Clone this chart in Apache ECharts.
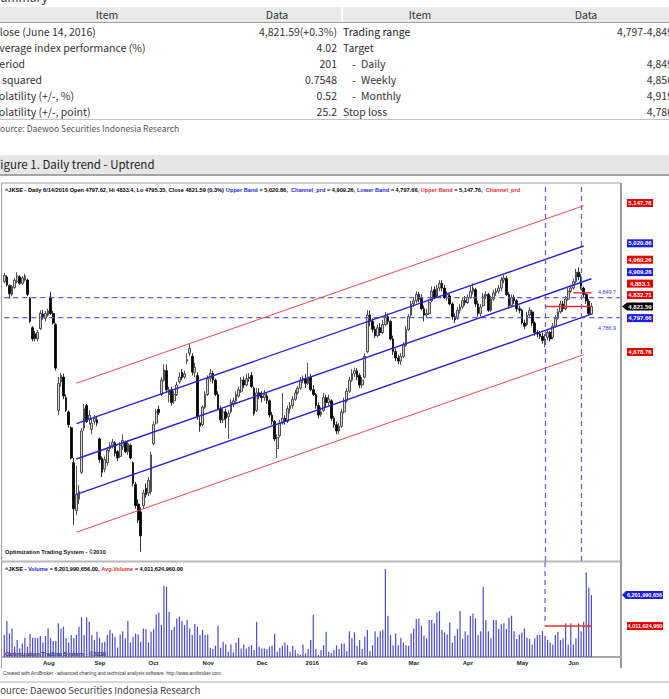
<!DOCTYPE html>
<html>
<head>
<meta charset="utf-8">
<title>JKSE daily trend</title>
<script src="https://cdn.jsdelivr.net/npm/echarts@6.0.0/dist/echarts.min.js"></script>
<style>
  html, body { margin: 0; padding: 0; background: #fff; }
  #page { position: relative; width: 669px; height: 699px; overflow: hidden;
          font-family: "Noto Sans CJK KR", "Noto Sans", sans-serif; color: #333; }
  .t { position: absolute; white-space: nowrap; }
  .row { position: absolute; height: 16px; line-height: 16px; font-size: 10.5px; white-space: nowrap; }
  .lv { right: 332px; text-align: right; }
  .rv { right: -4px; text-align: right; }
  #chart { position: absolute; left: 0; top: 178px; width: 669px; height: 504px; }
</style>
</head>
<body>
<div id="page">
  <div class="t" style="left:-7px;top:-10px;font-size:12px;line-height:14px;">Summary</div>

  <!-- summary table -->
  <div class="t" style="left:0;top:7px;width:669px;height:15px;background:#e9e9e9;border-bottom:1.5px solid #9c9c9c;"></div>
  <div class="t" style="left:341px;top:7px;width:2px;height:15px;background:#fff;"></div>
  <div class="row" style="left:57px;top:7px;width:100px;text-align:center;line-height:15px;">Item</div>
  <div class="row" style="left:227px;top:7px;width:100px;text-align:center;line-height:15px;">Data</div>
  <div class="row" style="left:370px;top:7px;width:100px;text-align:center;line-height:15px;">Item</div>
  <div class="row" style="left:536px;top:7px;width:100px;text-align:center;line-height:15px;">Data</div>

  <div class="row" style="left:-7px;top:24px;">Close (June 14, 2016)</div>
  <div class="row lv" style="top:24px;">4,821.59(+0.3%)</div>
  <div class="row" style="left:343px;top:24px;color:#222;">Trading range</div>
  <div class="row rv" style="top:24px;">4,797-4,849</div>

  <div class="row" style="left:-7px;top:40px;">Average index performance (%)</div>
  <div class="row lv" style="top:40px;">4.02</div>
  <div class="row" style="left:343px;top:40px;">Target</div>

  <div class="row" style="left:-7px;top:56px;">Period</div>
  <div class="row lv" style="top:56px;">201</div>
  <div class="row" style="left:352px;top:56px;">-</div>
  <div class="row" style="left:361px;top:56px;">Daily</div>
  <div class="row rv" style="top:56px;">4,849</div>

  <div class="row" style="left:-7px;top:72px;">R squared</div>
  <div class="row lv" style="top:72px;">0.7548</div>
  <div class="row" style="left:352px;top:72px;">-</div>
  <div class="row" style="left:361px;top:72px;">Weekly</div>
  <div class="row rv" style="top:72px;">4,856</div>

  <div class="row" style="left:-7px;top:88px;">Volatility (+/-, %)</div>
  <div class="row lv" style="top:88px;">0.52</div>
  <div class="row" style="left:352px;top:88px;">-</div>
  <div class="row" style="left:361px;top:88px;">Monthly</div>
  <div class="row rv" style="top:88px;">4,919</div>

  <div class="row" style="left:-7px;top:104px;">Volatility (+/-, point)</div>
  <div class="row lv" style="top:104px;">25.2</div>
  <div class="row" style="left:343px;top:104px;">Stop loss</div>
  <div class="row rv" style="top:104px;">4,786</div>

  <div class="t" style="left:0;top:119px;width:669px;height:0;border-top:1.5px solid #c4c4c4;"></div>
  <div class="t" style="left:-5px;top:121px;font-size:8.5px;line-height:14px;color:#555;">Source: Daewoo Securities Indonesia Research</div>

  <!-- figure title bar -->
  <div class="t" style="left:0;top:155px;width:669px;height:19px;background:#e6e6e6;border-bottom:2px solid #a5a5a5;"></div>
  <div class="t" style="left:-6px;top:155px;font-size:11.5px;line-height:19px;color:#222;">Figure 1. Daily trend - Uptrend</div>

  <div id="chart"></div>

  <div class="t" style="left:0;top:681px;width:669px;height:1.5px;background:#d8d8d8;"></div>
  <div class="t" style="left:-5.5px;top:683px;font-size:9.5px;line-height:14px;color:#444;">Source: Daewoo Securities Indonesia Research</div>
</div>

<script>
// ---------------- chart data ----------------
// daily candles, one array per month: [open, close, low, high]
const jul15 = [
  [4900,4920,4895,4928],[4915,4890,4885,4920],[4888,4862,4846,4892],[4860,4885,4855,4890],[4882,4905,4878,4912],
  [4900,4918,4895,4930],[4915,4895,4890,4920],[4895,4912,4890,4918],[4905,4918,4900,4925],[4905,4860,4855,4910],
  [4848,4775,4770,4852],[4755,4720,4712,4760],[4735,4722,4712,4745],[4720,4740,4712,4748],[4752,4800,4748,4810]
];
const aug15 = [
  [4798,4790,4780,4812],[4785,4800,4775,4808],[4795,4808,4790,4815],[4852,4800,4795,4868],[4800,4770,4765,4808],
  [4765,4628,4620,4770],[4495,4580,4480,4600],[4585,4605,4570,4612],[4600,4540,4530,4610],[4535,4495,4490,4545],
  [4490,4450,4440,4495],[4440,4345,4340,4445],[4330,4185,4135,4345],[4180,4230,4165,4320],[4215,4240,4200,4260],
  [4300,4430,4295,4440],[4440,4500,4430,4515],[4510,4460,4455,4515],[4465,4480,4450,4495],[4435,4455,4420,4470]
];
const sep15 = [
  [4460,4470,4450,4480],[4465,4455,4445,4475],[4405,4340,4330,4410],[4345,4300,4285,4350],[4310,4340,4300,4350],
  [4330,4370,4320,4380],[4375,4385,4365,4395],[4385,4395,4375,4405],[4392,4360,4350,4398],[4365,4345,4335,4370],
  [4350,4385,4345,4395],[4380,4400,4370,4420],[4395,4365,4360,4400],[4365,4390,4355,4398],[4385,4345,4340,4390],
  [4330,4265,4255,4335],[4262,4195,4185,4270],[4200,4150,4140,4215],[4175,4100,4050,4190],[4195,4235,4185,4245],
  [4250,4230,4220,4265]
];
const oct15 = [
  [4235,4275,4225,4285],[4240,4355,4230,4365],[4390,4450,4385,4460],[4455,4490,4450,4500],[4498,4488,4480,4510],
  [4545,4590,4540,4600],[4590,4622,4585,4640],[4620,4560,4550,4640],[4545,4560,4520,4570],[4560,4520,4510,4570],
  [4525,4545,4515,4555],[4545,4575,4540,4585],[4585,4600,4580,4615],[4615,4598,4590,4625],[4600,4610,4595,4620],
  [4650,4655,4640,4675],[4675,4690,4665,4705],[4665,4615,4605,4675],[4615,4630,4600,4645],[4605,4475,4465,4615],
  [4455,4445,4428,4475]
];
const nov15 = [
  [4450,4505,4445,4510],[4505,4545,4500,4555],[4545,4595,4540,4605],[4595,4612,4585,4625],[4612,4590,4580,4620],
  [4590,4545,4540,4595],[4545,4500,4495,4555],[4500,4465,4455,4510],[4465,4490,4455,4500],[4490,4470,4440,4500],
  [4475,4485,4405,4495],[4490,4520,4485,4530],[4515,4525,4505,4535],[4525,4545,4515,4555],[4540,4560,4535,4570],
  [4555,4590,4550,4600],[4590,4575,4565,4602],[4575,4595,4570,4610],[4595,4600,4585,4612],[4605,4570,4565,4615],
  [4565,4485,4478,4570]
];
const dec15 = [
  [4495,4550,4490,4565],[4550,4540,4530,4565],[4540,4535,4520,4555],[4535,4545,4525,4560],[4540,4525,4515,4550],
  [4525,4480,4472,4530],[4480,4460,4450,4490],[4460,4405,4398,4465],[4375,4410,4345,4420],[4415,4455,4410,4465],
  [4455,4470,4450,4550],[4470,4460,4450,4480],[4460,4500,4455,4510],[4500,4510,4485,4520],[4510,4530,4500,4540],
  [4530,4550,4525,4560],[4550,4565,4545,4572],[4565,4590,4560,4600],[4590,4595,4580,4605]
];
const jan16 = [
  [4595,4580,4565,4610],[4580,4600,4575,4645],[4600,4560,4555,4610],[4560,4545,4540,4575],[4545,4510,4500,4550],
  [4510,4480,4470,4520],[4482,4490,4475,4505],[4495,4535,4490,4550],[4535,4520,4505,4545],[4520,4530,4510,4545],
  [4525,4470,4462,4530],[4470,4450,4440,4478],[4450,4430,4420,4460],[4430,4445,4420,4455],[4445,4490,4440,4500],
  [4490,4525,4485,4535],[4525,4555,4520,4565],[4555,4590,4550,4600],[4590,4610,4585,4625],[4610,4620,4600,4630]
];
const feb16 = [
  [4620,4600,4590,4628],[4605,4575,4565,4612],[4575,4590,4565,4600],[4600,4665,4595,4675],[4680,4795,4675,4810],
  [4795,4775,4760,4810],[4775,4750,4740,4785],[4750,4730,4722,4760],[4730,4755,4725,4765],[4755,4740,4730,4770],
  [4740,4765,4735,4780],[4765,4790,4760,4805],[4790,4775,4765,4800],[4775,4720,4715,4780],[4720,4680,4670,4730],
  [4680,4660,4650,4690],[4660,4650,4640,4670],[4650,4665,4638,4675],[4665,4700,4660,4710],[4700,4750,4695,4760]
];
const mar16 = [
  [4750,4790,4745,4798],[4795,4830,4790,4840],[4830,4840,4820,4850],[4840,4860,4832,4870],[4860,4845,4835,4868],
  [4850,4815,4810,4860],[4815,4795,4775,4825],[4795,4800,4785,4815],[4800,4835,4795,4845],[4840,4870,4835,4885],
  [4875,4850,4845,4885],[4855,4880,4850,4890],[4880,4895,4870,4905],[4895,4880,4870,4905],[4880,4850,4845,4890],
  [4850,4860,4840,4870],[4855,4830,4825,4862],[4830,4790,4780,4835],[4790,4780,4770,4800],[4785,4810,4780,4820],
  [4810,4820,4800,4830]
];
const apr16 = [
  [4820,4840,4815,4850],[4840,4835,4825,4855],[4835,4850,4830,4860],[4850,4870,4845,4885],[4870,4880,4860,4895],
  [4875,4830,4820,4880],[4830,4800,4790,4840],[4800,4820,4790,4830],[4825,4855,4820,4865],[4855,4860,4845,4870],
  [4860,4810,4805,4865],[4810,4845,4805,4855],[4845,4865,4840,4875],[4865,4870,4855,4880],[4870,4880,4862,4890],
  [4880,4905,4870,4915],[4905,4912,4895,4922],[4910,4860,4855,4918],[4860,4825,4815,4868],[4825,4850,4820,4860],
  [4850,4840,4830,4858]
];
const may16 = [
  [4840,4815,4805,4845],[4815,4810,4800,4825],[4810,4770,4765,4815],[4770,4760,4750,4780],[4765,4795,4760,4805],
  [4795,4810,4785,4820],[4805,4770,4760,4812],[4770,4740,4730,4775],[4740,4735,4725,4748],[4735,4728,4720,4745],
  [4728,4715,4705,4740],[4715,4720,4695,4735],[4725,4740,4715,4748],[4740,4720,4712,4745],[4725,4760,4720,4770],
  [4760,4785,4755,4795],[4785,4805,4780,4815],[4805,4830,4800,4840],[4830,4815,4805,4840],[4815,4845,4810,4855]
];
const jun16 = [
  [4845,4870,4840,4880],[4870,4880,4865,4890],[4880,4900,4875,4910],[4900,4930,4895,4940],[4930,4915,4905,4945],
  [4915,4880,4875,4925],[4880,4860,4850,4885],[4860,4840,4830,4865],[4838,4800,4795,4845],[4797.62,4821.59,4795.35,4833.4]
];

// daily volume, billions of shares
const volJul = [3.37,4.36,3.49,3.84,2.55,3.02,2.43,2.78,3.18,2.55,3.44,3.18,3.18,3.18,3.30];
const volAug = [2.85,3.30,3.84,3.14,2.95,2.95,4.20,3.84,3.96,3.14,2.85,3.37,3.14,3.37,3.96,4.62,3.37,4.64,4.31,3.37];
const volSep = [3.02,3.61,3.18,2.85,2.90,3.37,3.73,3.49,3.25,2.48,3.42,3.65,3.14,4.36,2.85,3.25,3.49,3.42,2.90,3.84,3.80];
const volOct = [2.85,3.61,3.80,4.83,4.97,4.08,6.86,6.79,5.02,3.73,3.96,4.55,4.67,4.36,4.08,4.43,3.84,3.37,4.15,3.96,3.37];
const volNov = [3.73,3.37,3.42,2.48,2.38,2.62,4.03,2.48,2.90,2.71,2.19,2.71,2.15,2.85,3.18,2.43,2.71,2.43,2.55,2.66,2.31];
const volDec = [4.31,2.55,2.43,2.43,2.38,2.55,2.62,3.47,2.19,2.48,2.62,2.85,2.66,2.19,2.62,2.31,2.05,1.96,2.71];
const volJan = [2.08,2.38,3.02,4.79,2.38,1.96,2.31,2.66,3.61,2.19,2.08,2.31,2.66,2.38,2.78,2.78,2.24,3.65,3.14,3.56];
const volFeb = [2.62,3.02,2.38,3.25,3.73,2.24,2.66,3.65,3.25,3.65,3.73,8.04,4.74,3.37,2.66,3.49,2.66,3.18,2.85,2.66];
const volMar = [2.62,3.49,3.84,4.50,4.55,4.03,3.32,3.14,4.43,4.43,4.20,4.97,5.07,3.73,3.56,3.42,4.27,2.85,3.32,3.80,5.07];
const volApr = [3.09,3.65,3.37,4.74,4.90,4.55,3.37,3.65,6.79,4.43,3.65,3.14,4.43,4.43,3.80,4.13,4.20,3.80,4.60,4.74,3.65];
const volMay = [3.09,3.42,3.56,3.84,3.18,3.09,2.71,3.14,3.37,3.37,3.65,3.32,3.02,2.85,2.71,3.37,3.61,3.02,3.14,4.20];
const volJun = [2.71,4.20,2.71,3.14,4.20,3.65,4.31,7.80,6.74,6.202];

// first bar and exchange holidays, for the date axis
const firstDay = '2015-07-07';
const holidays = ['2015-07-16','2015-07-17','2015-07-20','2015-07-21','2015-08-17','2015-09-24','2015-10-14',
  '2015-12-09','2015-12-24','2015-12-25','2015-12-31','2016-01-01','2016-02-08','2016-03-09','2016-03-25',
  '2016-05-05','2016-05-06'];
const blankDays = 11;   // empty bars AmiBroker leaves on the right

// regression channel: outer red, blue upper, channel_prd, blue lower, outer red
const channelStartBar = 28;
const channelEndBar = [225, 225, 228, 228, 225];
const channelStartVal = [4580.4, 4453.5, 4341.9, 4230.3, 4111.4];
const channelEndVal = [5139.3, 5012.4, 4909.26, 4797.66, 4670.3];

const levelValues = [4849.7, 4786.9];
const levelText = ['4,849.7', '4,786.9'];
const markerBars = [210, 224];
const redSegStart = [210, 221];
const redSegValue = [4822, 4865];
const lastBar = 228;
const avgVolume = 4.0116;
const lastVolume = 6.202;

const tagValues = [5147.76, 5020.86, 4969.26, 4909.26, 4883.1, 4832.71, 4821.59, 4797.66, 4678.76];
const tagText = ['5,147.76','5,020.86','4,969.26','4,909.26','4,883.1','4,832.71','4,821.59','4,797.66','4,678.76'];
const tagKind = ['r','b','r','b','r','r','k','b','r'];

// ---------------- build ----------------
const RED = '#ee2b2b', BLUE = '#2323e0', DASH = '#5a5af0';
const FAM = '"Liberation Sans", Arial, sans-serif';
const OFF = 178;   // chart div top on the page

const candles = [].concat(jul15, aug15, sep15, oct15, nov15, dec15, jan16, feb16, mar16, apr16, may16, jun16);
const volumes = [].concat(volJul, volAug, volSep, volOct, volNov, volDec, volJan, volFeb, volMar, volApr, volMay, volJun);

function tradingDays(n) {
  const out = [];
  const d = new Date(firstDay + 'T00:00:00Z');
  while (out.length < n) {
    const s = d.toISOString().slice(0, 10);
    const wd = d.getUTCDay();
    if (wd !== 0 && wd !== 6 && holidays.indexOf(s) < 0) out.push(s);
    d.setUTCDate(d.getUTCDate() + 1);
  }
  return out;
}
const dates = tradingDays(candles.length + blankDays);
const monthStart = dates.map((s, i) => i > 0 && s.slice(0, 7) !== dates[i - 1].slice(0, 7));
const MONTHS = ['Jan','Feb','Mar','Apr','May','Jun','Jul','Aug','Sep','Oct','Nov','Dec'];
function monthLabel(s) {
  const m = +s.slice(5, 7);
  return m === 1 ? s.slice(0, 4) : MONTHS[m - 1];
}

function seg(pts, color, width, xi, dashed) {
  return {
    type: 'line', xAxisIndex: xi, yAxisIndex: xi, data: pts, symbol: 'none', silent: true, z: 3,
    lineStyle: { color: color, width: width, type: dashed ? [5, 4] : 'solid' }
  };
}

const dashStyle = { color: DASH, type: [5, 4], width: 1.2 };
const series = [{
  type: 'candlestick', name: '^JKSE', xAxisIndex: 0, yAxisIndex: 0, data: candles,
  barWidth: 2.2, silent: true,
  itemStyle: { color: '#d4d4d4', color0: '#000', borderColor: '#2a2a2a', borderColor0: '#000', borderWidth: 0.8 },
  markLine: {
    silent: true, symbol: ['none', 'none'], label: { show: false }, lineStyle: dashStyle,
    data: markerBars.map(b => ({ xAxis: dates[b], lineStyle: dashStyle }))
  }
}];
// horizontal dashed levels across the whole pane
levelValues.forEach(v => series.push(seg([[0, v], [dates.length - 1, v]], DASH, 1.2, 0, true)));
channelStartVal.forEach((v, k) => {
  const red = k === 0 || k === 4;
  series.push(seg([[channelStartBar, v], [channelEndBar[k], channelEndVal[k]]], red ? '#f04848' : BLUE, red ? 1 : 1.4, 0));
});
redSegStart.forEach((b, k) => series.push(seg([[b, redSegValue[k]], [lastBar, redSegValue[k]]], RED, 1.4, 0)));
series.push({
  type: 'bar', name: 'Volume', xAxisIndex: 1, yAxisIndex: 1, data: volumes, barWidth: 1.2, silent: true,
  itemStyle: { color: '#4a4ad8' }
});
series.push(seg([[markerBars[0], avgVolume], [lastBar, avgVolume]], RED, 1.4, 1));
series.push(seg([[markerBars[0], 8.537], [markerBars[0], avgVolume]], DASH, 1.2, 1, true));

const chart = echarts.init(document.getElementById('chart'), null, { renderer: 'svg' });
chart.setOption({
  animation: false,
  grid: [
    { left: 3, top: 183 - OFF, width: 618, height: 378 },
    { left: 3, top: 562 - OFF, width: 618, height: 95 }
  ],
  xAxis: [
    { type: 'category', gridIndex: 0, data: dates, boundaryGap: true, show: false },
    {
      type: 'category', gridIndex: 1, data: dates, boundaryGap: true,
      axisLine: { onZero: false, lineStyle: { color: '#a8a8a8', width: 2 } },
      axisTick: { alignWithLabel: true, interval: i => monthStart[i], length: 3, lineStyle: { color: '#555' } },
      axisLabel: {
        interval: i => monthStart[i], formatter: monthLabel, align: 'left', margin: 3,
        fontSize: 6, fontWeight: 'bold', fontFamily: FAM, color: '#222'
      }
    }
  ],
  yAxis: [
    { type: 'value', gridIndex: 0, min: 4020.8, max: 5210.7, show: false },
    { type: 'value', gridIndex: 1, min: 1.823, max: 8.537, show: false }
  ],
  series: series
});

// ---------------- annotations ----------------
const ctx = document.createElement('canvas').getContext('2d');
function cssFont(size, bold) { return (bold ? 'bold ' : '') + size + 'px ' + FAM; }
function fitScale(str, size, bold, width) {
  ctx.font = cssFont(size, bold);
  return width / ctx.measureText(str).width;
}
const g = [];
function line(x1, y1, x2, y2, color, w) {
  g.push({ type: 'line', silent: true, shape: { x1, y1, x2, y2 }, style: { stroke: color, lineWidth: w } });
}
function label(str, x, y, size, bold, fill, width, align) {
  const el = {
    type: 'text', silent: true, x: x, y: y,
    style: { text: str, fontSize: size, fontWeight: bold ? 'bold' : 'normal', fontFamily: FAM,
             fill: fill, verticalAlign: 'middle', align: align || 'left' }
  };
  if (width) el.scaleX = fitScale(str, size, bold, width);
  g.push(el);
}
function richLabel(parts, x, y, size, width) {
  const f = { fontSize: size, fontWeight: 'bold', fontFamily: FAM };
  g.push({
    type: 'text', silent: true, x: x, y: y,
    scaleX: fitScale(parts.map(p => p[1]).join(''), size, true, width),
    style: {
      text: parts.map(p => '{' + p[0] + '|' + p[1] + '}').join(''), verticalAlign: 'middle',
      rich: { k: Object.assign({ fill: '#000' }, f), b: Object.assign({ fill: BLUE }, f), r: Object.assign({ fill: RED }, f) }
    }
  });
}

// frame of the AmiBroker pane
line(1.5, 183 - OFF, 621, 183 - OFF, '#a0a0a0', 1);
line(1.5, 183 - OFF, 1.5, 668 - OFF, '#a0a0a0', 1);
line(621, 183 - OFF, 621, 668 - OFF, '#9a9a9a', 2);
line(1.5, 561.5 - OFF, 621, 561.5 - OFF, '#b8b8b8', 2);

richLabel([
  ['k', '^JKSE - Daily 6/14/2016 Open 4797.62, Hi 4833.4, Lo 4795.35, Close 4821.59 (0.3%) '],
  ['b', 'Upper Band'], ['k', ' = 5,020.86,  '], ['b', 'Channel_prd'], ['k', ' = 4,909.26, '],
  ['b', 'Lower Band'], ['k', ' = 4,797.66, '], ['r', 'Upper Band'], ['k', ' = 5,147.76,  '], ['r', 'Channel_prd']
], 5, 190 - OFF, 6, 515);
richLabel([
  ['k', '^JKSE - '], ['b', 'Volume'], ['k', ' = 6,201,990,656.00, '], ['r', 'Avg.Volume'], ['k', ' = 4,011,624,960.00']
], 5, 569 - OFF, 6, 178);
label('Optimization Trading System - \u00a92010', 5, 552 - OFF, 6, true, '#111', 101);
label('Optimization Trading System - \u00a92010', 5, 654 - OFF, 6, true, '#111', 101);
label('Created with AmiBroker - advanced charting and technical analysis software. http://www.amibroker.com',
  3, 673 - OFF, 5, false, '#333', 219);

// dashed level captions
levelValues.forEach((v, k) => {
  const y = chart.convertToPixel({ yAxisIndex: 0 }, v);
  label(levelText[k], 598, k === 0 ? y - 5.5 : y + 10, 6, false, '#3434e0', 18);
});

// price tags on the right, stacked around the close tag
const anchor = tagKind.indexOf('k');
const ys = tagValues.map(v => chart.convertToPixel({ yAxisIndex: 0 }, v));
for (let k = anchor - 1; k >= 0; k--) ys[k] = Math.min(ys[k], ys[k + 1] - 11.5);
for (let k = anchor + 1; k < ys.length; k++) ys[k] = Math.max(ys[k], ys[k - 1] + 11.5);
const kindColor = { r: '#e60000', b: '#1c1ce0', k: '#000' };
function tag(str, y, color, x0, x1, arrow, size) {
  const pts = arrow
    ? [[622, y], [x0, y - 4], [x1, y - 4], [x1, y + 4], [x0, y + 4]]
    : [[x0, y - 4], [x1, y - 4], [x1, y + 4], [x0, y + 4]];
  g.push({ type: 'polygon', silent: true, shape: { points: pts }, style: { fill: color } });
  g.push({
    type: 'text', silent: true, x: (x0 + x1) / 2, y: y,
    style: { text: str, fontSize: size, fontWeight: 'bold', fontFamily: FAM, fill: '#fff', align: 'center', verticalAlign: 'middle' }
  });
}
tagText.forEach((t, k) => tag(t, ys[k], kindColor[tagKind[k]], 627, 653, tagKind[k] === 'k', 6));

// volume tags
tag('6,201,990,656', chart.convertToPixel({ yAxisIndex: 1 }, lastVolume), '#1c1ce0', 626, 663, true, 5.5);
tag('4,011,624,960', chart.convertToPixel({ yAxisIndex: 1 }, avgVolume), '#e60000', 627, 663, false, 5.5);

chart.setOption({ graphic: g });
</script>
</body>
</html>
